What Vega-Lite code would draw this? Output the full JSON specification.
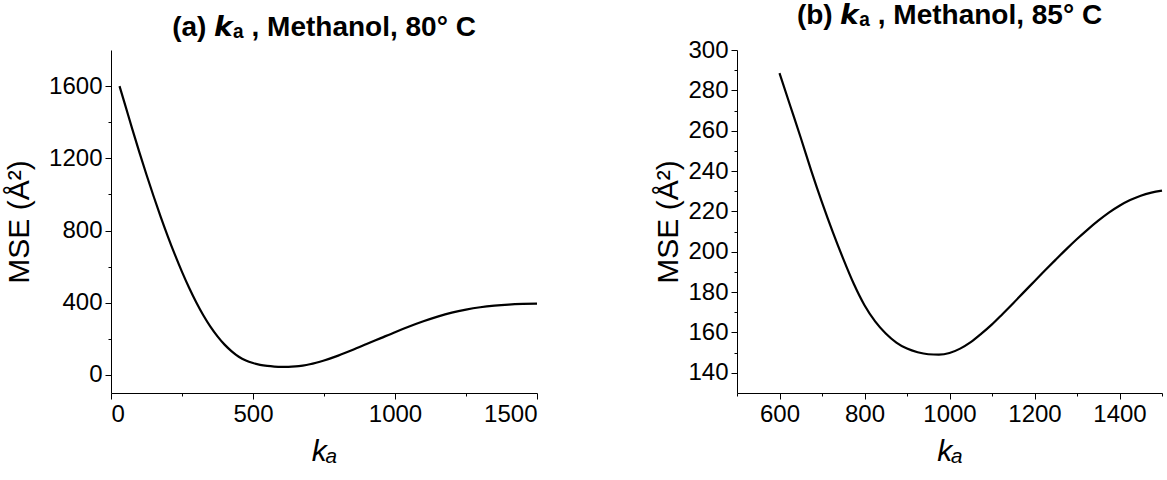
{
  "$schema": "https://vega.github.io/schema/vega-lite/v6.json",
  "autosize": {"type": "pad"},
  "padding": {"left": 4, "top": 2, "right": 0, "bottom": 0},
  "background": "white",
  "config": {
    "view": {"stroke": null},
    "font": "Liberation Sans",
    "axis": {
      "grid": false,
      "domainColor": "black",
      "domainWidth": 1,
      "tickColor": "black",
      "labelColor": "black",
      "titleColor": "black",
      "labelFont": "Liberation Sans",
      "titleFont": "Liberation Sans",
      "labelFontSize": 24,
      "titleFontSize": 30,
      "titleFontWeight": "normal",
      "labelPadding": 3,
      "format": "d"
    },
    "title": {"font": "Liberation Sans", "fontSize": 28, "fontWeight": "bold", "color": "black", "anchor": "middle", "offset": 8}
  },
  "bounds": "flush",
  "spacing": 200,
  "hconcat": [
    {
      "title": "(a) 𝙠ₐ , Methanol, 80° C",
      "width": 426,
      "height": 343,
      "data": {"values": [
        {"ka": 30, "mse": 1600}, {"ka": 50, "mse": 1495}, {"ka": 75, "mse": 1362}, {"ka": 100, "mse": 1233},
        {"ka": 125, "mse": 1109}, {"ka": 150, "mse": 990}, {"ka": 175, "mse": 876}, {"ka": 200, "mse": 768},
        {"ka": 225, "mse": 666}, {"ka": 250, "mse": 571}, {"ka": 275, "mse": 483}, {"ka": 300, "mse": 403},
        {"ka": 325, "mse": 331}, {"ka": 350, "mse": 268}, {"ka": 375, "mse": 214}, {"ka": 400, "mse": 168},
        {"ka": 425, "mse": 131}, {"ka": 450, "mse": 101}, {"ka": 475, "mse": 80}, {"ka": 500, "mse": 66},
        {"ka": 525, "mse": 56}, {"ka": 550, "mse": 50}, {"ka": 575, "mse": 46.5}, {"ka": 600, "mse": 45},
        {"ka": 625, "mse": 45}, {"ka": 650, "mse": 47}, {"ka": 675, "mse": 52}, {"ka": 700, "mse": 59},
        {"ka": 750, "mse": 80}, {"ka": 800, "mse": 107}, {"ka": 850, "mse": 138}, {"ka": 900, "mse": 171},
        {"ka": 950, "mse": 204}, {"ka": 1000, "mse": 237}, {"ka": 1050, "mse": 268}, {"ka": 1100, "mse": 297},
        {"ka": 1150, "mse": 323}, {"ka": 1200, "mse": 345}, {"ka": 1250, "mse": 362}, {"ka": 1300, "mse": 375},
        {"ka": 1350, "mse": 384}, {"ka": 1400, "mse": 390}, {"ka": 1450, "mse": 393.5}, {"ka": 1500, "mse": 395.5}
      ]},
      "mark": {"type": "line", "color": "black", "strokeWidth": 2.2, "interpolate": "monotone"},
      "encoding": {
        "x": {"field": "ka", "type": "quantitative", "scale": {"domain": [0, 1500], "nice": false, "zero": false},
          "axis": {"title": "kₐ", "titleFontStyle": "italic", "titlePadding": 10,
            "values": [0, 250, 500, 750, 1000, 1250, 1500],
            "labelExpr": "datum.value % 500 === 0 ? datum.label : ''",
            "tickSize": {"condition": {"test": "datum.value % 500 === 0", "value": 6}, "value": 3}}},
        "y": {"field": "mse", "type": "quantitative", "scale": {"domain": [-100, 1800], "nice": false, "zero": false},
          "axis": {"title": "MSE (Å²)", "titlePadding": 14,
            "values": [0, 200, 400, 600, 800, 1000, 1200, 1400, 1600],
            "labelExpr": "datum.value % 400 === 0 ? datum.label : ''",
            "tickSize": {"condition": {"test": "datum.value % 400 === 0", "value": 6}, "value": 3}}}
      }
    },
    {
      "title": "(b) 𝙠ₐ , Methanol, 85° C",
      "width": 425,
      "height": 343,
      "data": {"values": [
        {"ka": 600, "mse": 288.5}, {"ka": 625, "mse": 272.5}, {"ka": 650, "mse": 256.5}, {"ka": 675, "mse": 240},
        {"ka": 700, "mse": 224.5}, {"ka": 725, "mse": 210}, {"ka": 750, "mse": 196.5}, {"ka": 775, "mse": 184},
        {"ka": 800, "mse": 173.5}, {"ka": 825, "mse": 165.5}, {"ka": 850, "mse": 159.5}, {"ka": 875, "mse": 155},
        {"ka": 900, "mse": 152}, {"ka": 925, "mse": 150.2}, {"ka": 950, "mse": 149.2}, {"ka": 975, "mse": 149},
        {"ka": 1000, "mse": 149.8}, {"ka": 1025, "mse": 152}, {"ka": 1050, "mse": 155.2}, {"ka": 1075, "mse": 159.4},
        {"ka": 1100, "mse": 164}, {"ka": 1125, "mse": 169.2}, {"ka": 1150, "mse": 174.5}, {"ka": 1175, "mse": 180},
        {"ka": 1200, "mse": 185.4}, {"ka": 1225, "mse": 190.8}, {"ka": 1250, "mse": 196.1}, {"ka": 1275, "mse": 201.3},
        {"ka": 1300, "mse": 206.3}, {"ka": 1325, "mse": 211}, {"ka": 1350, "mse": 215.4}, {"ka": 1375, "mse": 219.4},
        {"ka": 1400, "mse": 222.8}, {"ka": 1425, "mse": 225.6}, {"ka": 1450, "mse": 227.8}, {"ka": 1475, "mse": 229.3},
        {"ka": 1500, "mse": 230.3}
      ]},
      "mark": {"type": "line", "color": "black", "strokeWidth": 2.2, "interpolate": "monotone"},
      "encoding": {
        "x": {"field": "ka", "type": "quantitative", "scale": {"domain": [500, 1500], "nice": false, "zero": false},
          "axis": {"title": "kₐ", "titleFontStyle": "italic", "titlePadding": 10,
            "values": [500, 600, 700, 800, 900, 1000, 1100, 1200, 1300, 1400, 1500],
            "labelExpr": "datum.value % 200 === 0 && datum.value < 1500 ? datum.label : ''",
            "tickSize": {"condition": {"test": "datum.value % 200 === 0 && datum.value < 1500", "value": 6}, "value": 3}}},
        "y": {"field": "mse", "type": "quantitative", "scale": {"domain": [130, 300], "nice": false, "zero": false},
          "axis": {"title": "MSE (Å²)", "titlePadding": 4,
            "values": [140, 150, 160, 170, 180, 190, 200, 210, 220, 230, 240, 250, 260, 270, 280, 290, 300],
            "labelExpr": "datum.value % 20 === 0 ? datum.label : ''",
            "tickSize": {"condition": {"test": "datum.value % 20 === 0", "value": 6}, "value": 3}}}
      }
    }
  ]
}
